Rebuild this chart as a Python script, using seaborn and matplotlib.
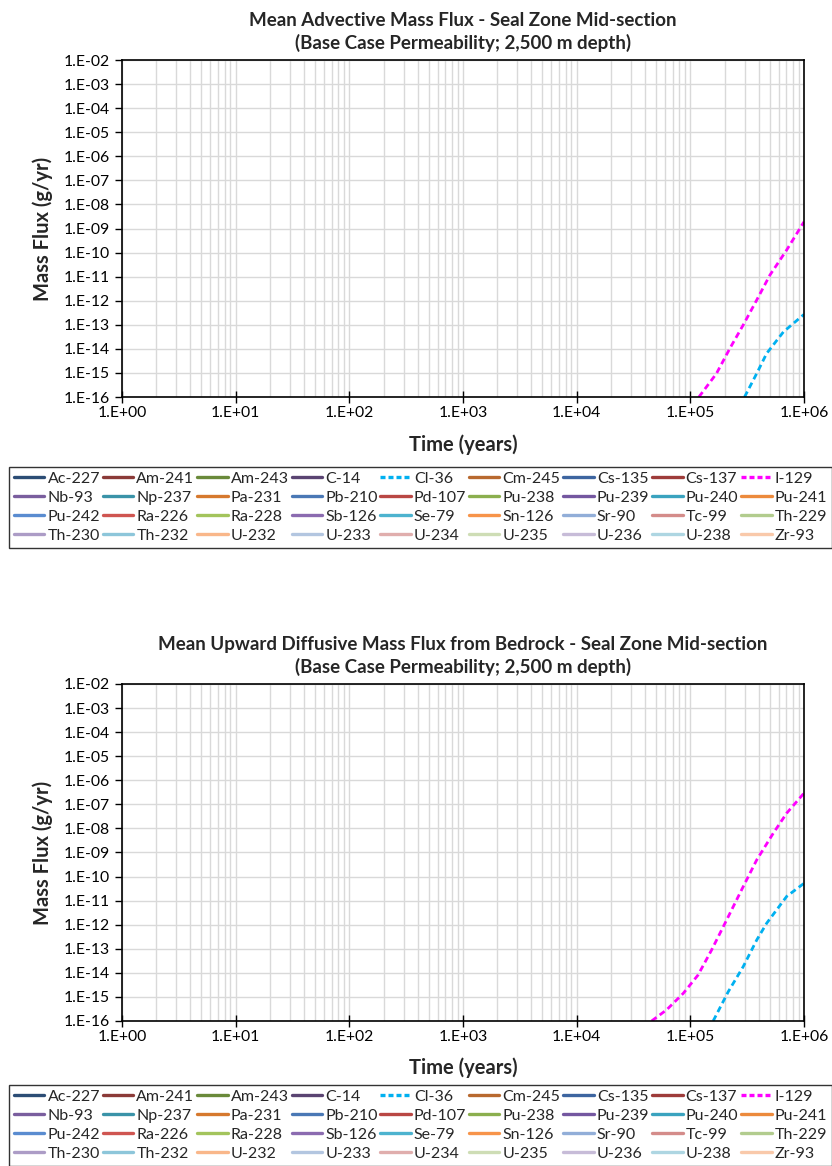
import numpy as np
import pandas as pd
import matplotlib
matplotlib.use('Agg')
import matplotlib.pyplot as plt
import seaborn as sns
from matplotlib.lines import Line2D
from matplotlib.ticker import FixedLocator, FuncFormatter, NullFormatter

# 핵종 목록 (범례 순서, 행 우선)
nuclides = ['Ac-227', 'Am-241', 'Am-243', 'C-14', 'Cl-36', 'Cm-245', 'Cs-135', 'Cs-137', 'I-129',
            'Nb-93', 'Np-237', 'Pa-231', 'Pb-210', 'Pd-107', 'Pu-238', 'Pu-239', 'Pu-240', 'Pu-241',
            'Pu-242', 'Ra-226', 'Ra-228', 'Sb-126', 'Se-79', 'Sn-126', 'Sr-90', 'Tc-99', 'Th-229',
            'Th-230', 'Th-232', 'U-232', 'U-233', 'U-234', 'U-235', 'U-236', 'U-238', 'Zr-93']
colors = ['#2C4D75', '#8B3A38', '#6A8A3A', '#5A4472', '#00B0F0', '#B8692F', '#3D65A0', '#9E3C3A', '#FF00FF',
          '#7A5E9E', '#3A93A8', '#D6792E', '#4A78B5', '#B94744', '#8BAF4E', '#7457A0', '#3AA3BF', '#EC8A3C',
          '#5A8CD0', '#CF5551', '#A3C45C', '#8B6BB0', '#4DB3CF', '#F7944A', '#92AED8', '#D48C8A', '#B2CC8E',
          '#AC9CC6', '#8DC6DA', '#F9B78A', '#B3C6E0', '#E0AEAD', '#CEDDB5', '#C7BCD8', '#AED6E2', '#F9C9AA']
dashed = ['Cl-36', 'I-129']

# 상단: 이류 질량 플럭스 (다른 핵종은 1E-16 미만이라 표시되지 않음)
adv_i129_t = [1.19e5, 1.70e5, 2.23e5, 2.92e5, 3.84e5, 5.02e5, 7.05e5, 1.0e6]
adv_i129_f = [1.0e-16, 9.5e-16, 1.05e-14, 9.8e-14, 1.07e-12, 1.17e-11, 1.29e-10, 1.9e-9]
adv_cl36_t = [3.0e5, 3.84e5, 4.7e5, 6.6e5, 1.0e6]
adv_cl36_f = [1.0e-16, 9.5e-16, 6.5e-15, 5.1e-14, 2.7e-13]

# 하단: 상향 확산 질량 플럭스
dif_i129_t = [4.57e4, 6.19e4, 8.67e4, 1.17e5, 1.54e5, 2.02e5, 2.92e5, 3.84e5, 5.37e5, 7.05e5, 1.0e6]
dif_i129_f = [1.0e-16, 2.9e-16, 1.4e-15, 8.1e-15, 8.9e-14, 1.15e-12, 3.8e-11, 4.9e-10, 6.3e-9, 4.3e-8, 2.9e-7]
dif_cl36_t = [1.59e5, 2.16e5, 2.92e5, 3.84e5, 4.7e5, 7.05e5, 1.0e6]
dif_cl36_f = [1.0e-16, 1.66e-15, 1.8e-14, 2.3e-13, 1.15e-12, 1.5e-11, 5.2e-11]

titles = ['Mean Advective Mass Flux - Seal Zone Mid-section\n(Base Case Permeability; 2,500 m depth)',
          'Mean Upward Diffusive Mass Flux from Bedrock - Seal Zone Mid-section\n(Base Case Permeability; 2,500 m depth)']

sns.set_style('white')
plt.rcParams['font.family'] = ['Lato', 'DejaVu Sans']

fig = plt.figure(figsize=(8.32, 11.66), dpi=100)
ax1 = fig.add_axes([0.1466, 0.6595, 0.8197, 0.289])
ax2 = fig.add_axes([0.1466, 0.1244, 0.8197, 0.289])

panels = [
    (ax1, {'I-129': (adv_i129_t, adv_i129_f), 'Cl-36': (adv_cl36_t, adv_cl36_f)}),
    (ax2, {'I-129': (dif_i129_t, dif_i129_f), 'Cl-36': (dif_cl36_t, dif_cl36_f)}),
]

fmt = FuncFormatter(lambda v, p: '1.E%+03d' % int(round(np.log10(v))))
xmaj = 10.0 ** np.arange(0, 7)
xmin = [d * m for d in 10.0 ** np.arange(0, 6) for m in range(2, 10)]
ymaj = 10.0 ** np.arange(-16, -1)
ymin = [d * m for d in 10.0 ** np.arange(-16, -2) for m in range(2, 10)]

for (ax, series), title in zip(panels, titles):
    for name, (t, f) in series.items():
        df = pd.DataFrame({'t': t, 'f': f})
        sns.lineplot(data=df, x='t', y='f', ax=ax, color=colors[nuclides.index(name)],
                     linewidth=2.0, linestyle=(0, (2.2, 1.4)), legend=False)
    ax.set_xscale('log')
    ax.set_yscale('log')
    ax.set_xlim(1, 1e6)
    ax.set_ylim(1e-16, 1e-2)
    ax.xaxis.set_major_locator(FixedLocator(xmaj))
    ax.xaxis.set_minor_locator(FixedLocator(xmin))
    ax.yaxis.set_major_locator(FixedLocator(ymaj))
    ax.yaxis.set_minor_locator(FixedLocator(ymin))
    ax.xaxis.set_major_formatter(fmt)
    ax.yaxis.set_major_formatter(fmt)
    ax.xaxis.set_minor_formatter(NullFormatter())
    ax.yaxis.set_minor_formatter(NullFormatter())
    ax.grid(True, which='major', axis='both', color='#D9D9D9', linewidth=1.0)
    ax.grid(True, which='minor', axis='x', color='#D9D9D9', linewidth=1.0)
    ax.set_axisbelow(True)
    ax.tick_params(axis='x', which='major', direction='inout', length=9, width=1, labelsize=11.3, pad=2, colors='black')
    ax.tick_params(axis='x', which='minor', direction='in', length=4, width=1)
    ax.tick_params(axis='y', which='major', direction='out', length=5, width=1, labelsize=11.3, pad=4, colors='black')
    ax.tick_params(axis='y', which='minor', direction='inout', length=3, width=0.8)
    ax.tick_params(left=True, bottom=True, top=False, right=False)
    for s in ax.spines.values():
        s.set_color('black')
        s.set_linewidth(1.2)
    ax.set_title(title, fontsize=13.5, fontweight='bold', pad=8, linespacing=1.3)
    ax.set_xlabel('Time (years)', fontsize=14.5, fontweight='bold', labelpad=10)
    ax.set_ylabel('Mass Flux (g/yr)', fontsize=14.5, fontweight='bold', labelpad=7)

handles = [Line2D([], [], color=c, linewidth=2.4,
                  linestyle=(0, (1.5, 0.9)) if n in dashed else '-')
           for n, c in zip(nuclides, colors)]

# 범례를 행 우선으로 보이도록 열 우선 순서로 재배치
ncol, nrow = 9, 4
order = [r * ncol + c for c in range(ncol) for r in range(nrow)]
h_ord = [handles[i] for i in order]
l_ord = [nuclides[i] for i in order]

for top in [1 - 467 / 1166, 1 - 1085 / 1166]:
    leg = fig.legend(h_ord, l_ord, ncol=ncol, loc='upper left',
                     bbox_to_anchor=(0.011, top - 0.07, 0.989, 0.07), mode='expand',
                     fontsize=11.5, frameon=True, fancybox=False, edgecolor='black',
                     handlelength=1.9, handletextpad=0.2, labelspacing=0.3,
                     borderpad=0.3, borderaxespad=0.0)
    leg.get_frame().set_linewidth(1.0)

fig.savefig('out.png', dpi=100)
